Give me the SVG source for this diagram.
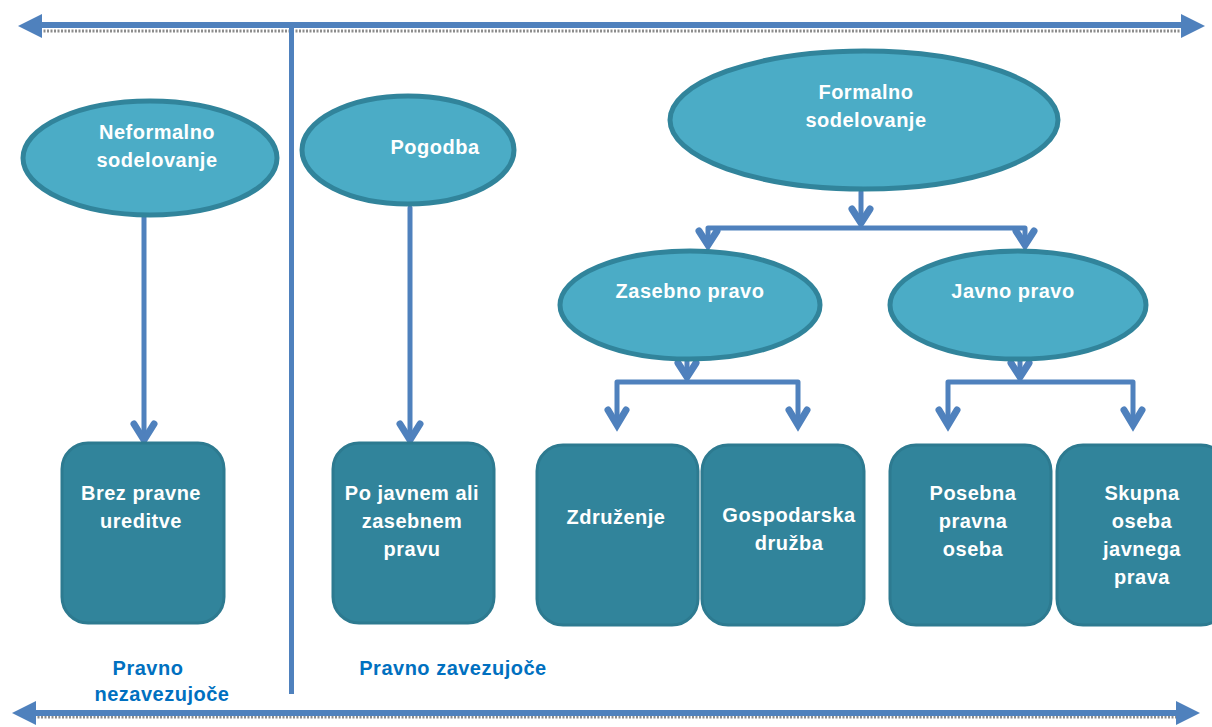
<svg xmlns="http://www.w3.org/2000/svg" width="1212" height="727" viewBox="0 0 1212 727">
<style>
.ell{fill:#4BACC6;stroke:#31849B;stroke-width:5}
.box{fill:#31849B;stroke:#2D7A90;stroke-width:3}
.t{font-family:"Liberation Sans",Arial,sans-serif;font-weight:bold;font-size:20px;fill:#FFFFFF;text-anchor:middle;letter-spacing:0.5px}
.lbl{font-family:"Liberation Sans",Arial,sans-serif;font-weight:bold;font-size:20px;fill:#0070C0;text-anchor:middle;letter-spacing:0.5px}
.c{fill:none;stroke:#4F81BD;stroke-width:5;stroke-linecap:round;stroke-linejoin:round}
.hd{fill:none;stroke:#4F81BD;stroke-width:7;stroke-linecap:round;stroke-linejoin:miter}
.sh{fill:none;stroke:#8C8C8C;stroke-width:3;stroke-dasharray:2 1.5}
.ah{fill:#4F81BD}
</style>
<g id="axes">
<line class="sh" x1="40" y1="31" x2="1183" y2="31"/>
<rect x="40" y="22" width="1143" height="6" fill="#4F81BD"/>
<polygon class="ah" points="18,26 42,14 42,38"/>
<polygon class="ah" points="1205,26 1181,14 1181,38"/>
<line class="sh" x1="34" y1="717" x2="1180" y2="717"/>
<rect x="34" y="710" width="1146" height="6" fill="#4F81BD"/>
<polygon class="ah" points="12,713 36,701 36,725"/>
<polygon class="ah" points="1200,713 1176,701 1176,725"/>
<rect x="289" y="28" width="5" height="666" fill="#4F81BD"/>
</g>
<g id="connectors">
<path class="c" d="M144 216 V438"/><path class="hd" d="M134 424 L144 440 L154 424"/>
<path class="c" d="M410 208 V438"/><path class="hd" d="M400 424 L410 440 L420 424"/>
<path class="c" d="M861 192 V222"/><path class="hd" d="M852 209 L861 223 L870 209"/>
<path class="c" d="M708 228 H1025 M708 228 V243 M1025 228 V243"/>
<path class="hd" d="M699 231 L708 245 L717 231 M1016 231 L1025 245 L1034 231"/>
<path class="c" d="M687 360 V376"/><path class="hd" d="M678 363 L687 377 L696 363"/>
<path class="c" d="M617 382 H798 V424 M617 382 V424"/>
<path class="hd" d="M608 410 L617 425 L626 410 M789 410 L798 425 L807 410"/>
<path class="c" d="M1020 360 V376"/><path class="hd" d="M1011 363 L1020 377 L1029 363"/>
<path class="c" d="M948 382 H1133 V424 M948 382 V424"/>
<path class="hd" d="M939 410 L948 425 L957 410 M1124 410 L1133 425 L1142 410"/>
</g>
<g id="neformalno"><ellipse class="ell" cx="150" cy="158" rx="127" ry="57"/><text class="t" x="157" y="139">Neformalno</text><text class="t" x="157" y="167">sodelovanje</text></g>
<g id="pogodba"><ellipse class="ell" cx="408" cy="150" rx="106" ry="54"/><text class="t" x="435" y="154">Pogodba</text></g>
<g id="formalno"><ellipse class="ell" cx="864" cy="120" rx="194" ry="69"/><text class="t" x="866" y="99">Formalno</text><text class="t" x="866" y="127">sodelovanje</text></g>
<g id="zasebno"><ellipse class="ell" cx="690" cy="305" rx="130" ry="54"/><text class="t" x="690" y="298">Zasebno pravo</text></g>
<g id="javno"><ellipse class="ell" cx="1018" cy="305" rx="128" ry="54"/><text class="t" x="1013" y="298">Javno pravo</text></g>
<g id="brez"><rect class="box" x="62" y="443" width="162" height="180" rx="26"/><text class="t" x="141" y="500">Brez pravne</text><text class="t" x="141" y="528">ureditve</text></g>
<g id="pojavnem"><rect class="box" x="333" y="443" width="161" height="180" rx="26"/><text class="t" x="412" y="500">Po javnem ali</text><text class="t" x="412" y="528">zasebnem</text><text class="t" x="412" y="556">pravu</text></g>
<g id="zdruzenje"><rect class="box" x="537" y="445" width="161" height="180" rx="26"/><text class="t" x="616" y="524">Združenje</text></g>
<g id="gospodarska"><rect class="box" x="702" y="445" width="162" height="180" rx="26"/><text class="t" x="789" y="522">Gospodarska</text><text class="t" x="789" y="550">družba</text></g>
<g id="posebna"><rect class="box" x="890" y="445" width="161" height="180" rx="26"/><text class="t" x="973" y="500">Posebna</text><text class="t" x="973" y="528">pravna</text><text class="t" x="973" y="556">oseba</text></g>
<g id="skupna"><rect class="box" x="1057" y="445" width="170" height="180" rx="26"/><text class="t" x="1142" y="500">Skupna</text><text class="t" x="1142" y="528">oseba</text><text class="t" x="1142" y="556">javnega</text><text class="t" x="1142" y="584">prava</text></g>
<g id="labels"><text class="lbl" x="148" y="675">Pravno</text><text class="lbl" x="162" y="701">nezavezujoče</text><text class="lbl" x="453" y="675">Pravno zavezujoče</text></g>
</svg>
